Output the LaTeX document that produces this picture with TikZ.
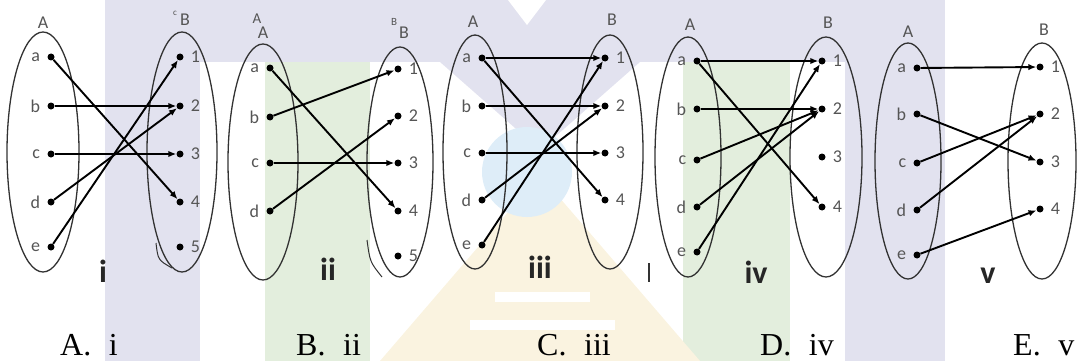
\documentclass[tikz,border=0pt]{standalone}
\usepackage{fontspec}
\setmainfont{Liberation Serif}
\newfontfamily\labelfont{Carlito}
\usepackage{tikz}
\usetikzlibrary{shapes, arrows.meta, positioning}

\definecolor{wmlilac}{RGB}{226,226,239}
\definecolor{wmgreen}{RGB}{227,238,221}
\definecolor{wmyellow}{RGB}{250,243,224}
\definecolor{wmblue}{RGB}{222,237,248}
\definecolor{linegray}{RGB}{50,50,50}
\definecolor{textgray}{RGB}{85,85,85}

\begin{document}
\begin{tikzpicture}[x=1pt, y=-1pt, >={Latex[length=8pt,width=6.5pt]},
    dot/.style={circle, fill=black, inner sep=0pt, minimum size=7pt},
    elt/.style={font=\labelfont\fontsize{18}{20}\selectfont, text=textgray, inner sep=1pt},
    setoval/.style={ellipse, draw=linegray, line width=1.3pt, inner sep=0pt},
    tag/.style={font=\labelfont\fontsize{32}{34}\selectfont\bfseries, text=black!85, anchor=base},
    choice/.style={font=\fontsize{32}{36}\selectfont, anchor=base west, inner sep=0pt},
    map/.style={->, line width=1.9pt}]
    \useasboundingbox (0,0) rectangle (1083,361);

    % Watermark
    \fill[wmlilac] (105,0) rectangle (945,62);
    \fill[wmlilac] (105,62) rectangle (200,361);
    \fill[wmlilac] (845,62) rectangle (945,361);
    \fill[wmlilac] (440,62) -- (640,62) -- (540,150) -- cycle;
    \fill[white] (508,0) -- (546,0) -- (527,25) -- cycle;
    \fill[wmgreen] (265,62) rectangle (370,361);
    \fill[wmgreen] (683,62) rectangle (790,361);
    \fill[wmyellow] (540,175) -- (700,361) -- (380,361) -- cycle;
    \fill[wmblue] (527,172) circle[radius=45];
    \fill[white] (495,292) rectangle (590,302);
    \fill[white] (470,320) rectangle (615,330);

    % Nodes: i
    \node[setoval, minimum width=72pt, minimum height=240pt] (i-A) at (43,152) {};
    \node[setoval, minimum width=70pt, minimum height=240pt] (i-B) at (182,152) {};
    \node[elt] (i-A-txt) at (43,23) {A};
    \node[elt] (i-B-txt) at (185,20) {B};
    \node[elt, font=\labelfont\fontsize{9}{10}\selectfont] (i-B-mark) at (175,13) {c};
    \foreach \n/\y in {a/57,b/106,c/154,d/202,e/247} {
        \node[dot] (i-\n) at (51,\y) {};
        \node[elt, left=6pt of i-\n] (i-\n-txt) {\n};
    }
    \foreach \n/\y in {1/57,2/106,3/154,4/202,5/247} {
        \node[dot] (i-\n) at (180,\y) {};
        \node[elt, right=6pt of i-\n] (i-\n-txt) {\n};
    }
    \node[tag] (i-tag) at (103,282) {i};

    % Nodes: ii
    \node[setoval, minimum width=70pt, minimum height=236pt] (ii-A) at (263,162) {};
    \node[setoval, minimum width=66pt, minimum height=230pt] (ii-B) at (400,162) {};
    \node[elt, font=\labelfont\fontsize{15}{16}\selectfont] (ii-A-ghost) at (257,19) {A};
    \node[elt] (ii-A-txt) at (263,33) {A};
    \node[elt, font=\labelfont\fontsize{11}{12}\selectfont] (ii-B-ghost) at (394,22) {B};
    \node[elt] (ii-B-txt) at (404,33) {B};
    \foreach \n/\y in {a/68,b/117,c/163,d/211} {
        \node[dot] (ii-\n) at (270,\y) {};
        \node[elt, left=6pt of ii-\n] (ii-\n-txt) {\n};
    }
    \foreach \n/\y in {1/69,2/116,3/163,4/211,5/256} {
        \node[dot] (ii-\n) at (398,\y) {};
        \node[elt, right=6pt of ii-\n] (ii-\n-txt) {\n};
    }
    \node[tag] (ii-tag) at (328,280) {ii};

    % Nodes: iii
    \node[setoval, minimum width=64pt, minimum height=234pt] (iii-A) at (475,152) {};
    \node[setoval, minimum width=66pt, minimum height=234pt] (iii-B) at (610,152) {};
    \node[elt] (iii-A-txt) at (473,22) {A};
    \node[elt] (iii-B-txt) at (612,20) {B};
    \foreach \n/\y in {a/58,b/106,c/153,d/200,e/245} {
        \node[dot] (iii-\n) at (482,\y) {};
        \node[elt, left=6pt of iii-\n] (iii-\n-txt) {\n};
    }
    \foreach \n/\y in {1/58,2/106,3/153,4/200} {
        \node[dot] (iii-\n) at (605,\y) {};
        \node[elt, right=6pt of iii-\n] (iii-\n-txt) {\n};
    }
    \node[tag] (iii-tag) at (540,278) {iii};

    % Nodes: iv
    \node[setoval, minimum width=66pt, minimum height=240pt] (iv-A) at (688,157) {};
    \node[setoval, minimum width=72pt, minimum height=240pt] (iv-B) at (826,157) {};
    \node[elt] (iv-A-txt) at (690,25) {A};
    \node[elt] (iv-B-txt) at (828,23) {B};
    \foreach \n/\y in {a/61,b/109,c/160,d/207,e/252} {
        \node[dot] (iv-\n) at (697,\y) {};
        \node[elt, left=6pt of iv-\n] (iv-\n-txt) {\n};
    }
    \foreach \n/\y in {1/61,2/109,3/157,4/207} {
        \node[dot] (iv-\n) at (822,\y) {};
        \node[elt, right=6pt of iv-\n] (iv-\n-txt) {\n};
    }
    \node[tag] (iv-tag) at (756,283) {iv};

    % Nodes: v
    \node[setoval, minimum width=66pt, minimum height=236pt] (v-A) at (908,161) {};
    \node[setoval, minimum width=68pt, minimum height=236pt] (v-B) at (1042,161) {};
    \node[elt] (v-A-txt) at (908,32) {A};
    \node[elt] (v-B-txt) at (1044,30) {B};
    \foreach \n/\y in {a/68,b/114,c/163,d/210,e/255} {
        \node[dot] (v-\n) at (917,\y) {};
        \node[elt, left=6pt of v-\n] (v-\n-txt) {\n};
    }
    \foreach \n/\y in {1/67,2/114,3/162,4/209} {
        \node[dot] (v-\n) at (1040,\y) {};
        \node[elt, right=6pt of v-\n] (v-\n-txt) {\n};
    }
    \node[tag] (v-tag) at (988,283) {v};

    % Connections
    \draw[map] (i-a) -- (i-4);
    \draw[map] (i-b) -- (i-2);
    \draw[map] (i-c) -- (i-3);
    \draw[map] (i-d) -- (i-2);
    \draw[map] (i-e) -- (i-1);

    \draw[map] (ii-a) -- (ii-4);
    \draw[map] (ii-b) -- (ii-1);
    \draw[map] (ii-c) -- (ii-3);
    \draw[map] (ii-d) -- (ii-2);

    \draw[map] (iii-a) -- (iii-1);
    \draw[map] (iii-a) -- (iii-4);
    \draw[map] (iii-b) -- (iii-2);
    \draw[map] (iii-c) -- (iii-3);
    \draw[map] (iii-d) -- (iii-2);
    \draw[map] (iii-e) -- (iii-1);

    \draw[map] (iv-a) -- (iv-1);
    \draw[map] (iv-a) -- (iv-4);
    \draw[map] (iv-b) -- (iv-2);
    \draw[map] (iv-c) -- (iv-2);
    \draw[map] (iv-d) -- (iv-2);
    \draw[map] (iv-e) -- (iv-1);

    \draw[map] (v-a) -- (v-1);
    \draw[map] (v-b) -- (v-3);
    \draw[map] (v-c) -- (v-2);
    \draw[map] (v-d) -- (v-2);
    \draw[map] (v-e) -- (v-4);

    % Stray strokes
    \draw[linegray, line width=1pt] (156,243) .. controls (158,260) .. (172,268);
    \draw[linegray, line width=1pt] (367,240) .. controls (370,262) .. (382,277);
    \draw[black!80, line width=1.3pt] (649,263) -- (649,282);

    % Choices
    \node[choice] (optA) at (60,355) {A.\hspace{0.55em}i};
    \node[choice] (optB) at (296,355) {B.\hspace{0.55em}ii};
    \node[choice] (optC) at (537,355) {C.\hspace{0.55em}iii};
    \node[choice] (optD) at (760,355) {D.\hspace{0.55em}iv};
    \node[choice] (optE) at (1013,355) {E.\hspace{0.55em}v};
\end{tikzpicture}
\end{document}
